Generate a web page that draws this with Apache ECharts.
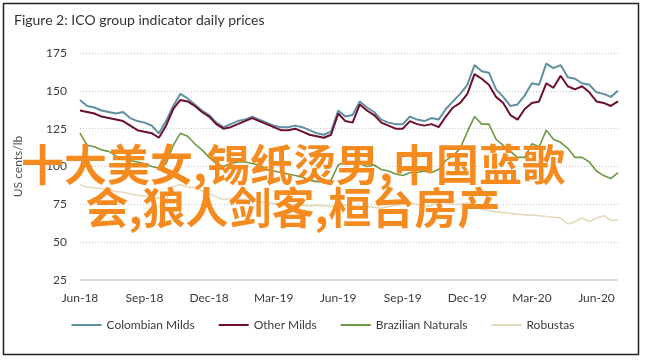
<!DOCTYPE html>
<html>
<head>
<meta charset="utf-8">
<script src="https://cdn.jsdelivr.net/npm/echarts@6/dist/echarts.min.js"></script>
<style>
html,body{margin:0;padding:0;background:#fff;}
#chart{width:646px;height:360px;}
</style>
</head>
<body>
<div id="chart"></div>
<script>
// x positions in months since 1 Jun 2018 (every ~10 days)
const months = [];
for (let i = 0; i <= 75; i++) months.push(+(i / 3).toFixed(3));

const tickLabels = ['Jun-18','Sep-18','Dec-18','Mar-19','Jun-19','Sep-19','Dec-19','Mar-20','Jun-20'];
const seriesNames = ['Colombian Milds','Other Milds','Brazilian Naturals','Robustas'];

const colombianMilds = [144,140,139,137,136,135,136,132,130,129,127,122,130,140,148,145,141,137,134,129,126,128,130,131,133,131,129,127,126,126,127,126,124,122,121,123,137,133,134,143,139,136,131,129,128,128,133,131,130,132,131,138,143,148,154,167,163,162,151,146,140,141,147,155,154,168,165,167,159,158,155,154,149,148,146,150];
const otherMilds = [137,136,135,133,132,131,130,127,124,123,122,119,127,138,144,143,140,136,133,128,125,126,128,130,132,130,128,126,124,124,125,123,121,120,119,121,135,130,129,141,137,134,129,127,125,125,130,128,127,128,126,133,139,142,148,161,158,154,146,142,134,131,138,142,143,155,152,160,153,151,153,149,143,142,140,143];
const brazilianNaturals = [122,114,113,111,110,107,105,104,103,102,100,99,102,114,122,120,115,111,106,102,100,102,103,103,102,101,98,97,96,95,94,93,91,90,90,91,101,103,102,102,100,101,98,97,95,94,96,96,97,96,98,104,107,112,123,133,128,128,118,114,110,106,106,115,113,124,118,116,112,106,106,103,97,94,92,96];
const robustas = [88,86.5,86,85.5,84.5,83.5,83,82,81,80.5,80,79,78,87,88,86.5,86,84,82,80,78,79,78.5,78,77,76.5,76,75.5,75,74.5,75,74.5,74,74.5,74,73.5,74,74.5,74,73.5,73.5,73,72.5,73.5,74.5,75,76,75,73.5,74,77,76,75,75,76,74,71.5,71,70,69.5,69,68.5,68,68,67.5,67,66.5,66,62,63.5,66,63.5,66,67.5,64.5,64.5];

const colors = ['#5f8fa0','#6d0f2e','#6c9a43','#e3d9bb'];
const widths = [2, 2, 1.6, 1.6];
const allValues = [colombianMilds, otherMilds, brazilianNaturals, robustas];

const chart = echarts.init(document.getElementById('chart'));
const font = 'Lato, "Open Sans", sans-serif';

const order = [3, 2, 0, 1];
const series = order.map(i => ({
  name: seriesNames[i],
  type: 'line',
  showSymbol: false,
  symbol: 'none',
  smooth: false,
  z: 2 + order.indexOf(i),
  lineStyle: { color: colors[i], width: widths[i] },
  itemStyle: { color: colors[i] },
  data: months.map((m, k) => [m, allValues[i][k]])
}));

chart.setOption({
  animation: false,
  backgroundColor: '#fff',
  textStyle: { fontFamily: font },
  grid: { left: 80, right: 28, top: 53, bottom: 80 },
  xAxis: {
    type: 'value', min: 0, max: 25, interval: 3,
    axisLine: { show: false },
    axisTick: { show: false },
    splitLine: { show: false },
    axisLabel: {
      margin: 12, color: '#3a3a3a', fontSize: 12, fontFamily: font,
      formatter: v => tickLabels[Math.round(v / 3)] || ''
    }
  },
  yAxis: {
    type: 'value', min: 25, max: 175, interval: 25,
    name: 'US cents/lb', nameLocation: 'middle', nameGap: 56, nameRotate: 90,
    nameTextStyle: { color: '#555', fontSize: 12, fontFamily: font },
    axisLine: { show: false },
    axisTick: { show: false },
    axisLabel: {
      margin: 13, color: '#3a3a3a', fontSize: 12, fontFamily: font
    },
    splitLine: {
      lineStyle: { color: '#c9c9c9', type: [1, 2], width: 1 }
    }
  },
  legend: {
    data: seriesNames,
    bottom: 24, left: 'center',
    icon: 'rect', itemWidth: 30, itemHeight: 2, itemGap: 24,
    textStyle: { color: '#3a3a3a', fontSize: 12, fontFamily: font }
  },
  series: series,
  graphic: [
    { type: 'rect', shape: { x: 3.5, y: 3.5, width: 635, height: 351 },
      style: { fill: 'none', stroke: '#222', lineWidth: 1.5 }, z: 100 },
    { type: 'line', shape: { x1: 80, y1: 280, x2: 618, y2: 280 },
      style: { stroke: '#dcdcdc', lineWidth: 2 }, z: 1 },
    { type: 'text', left: 14, top: 13,
      style: { text: 'Figure 2: ICO group indicator daily prices', fill: '#333', fontSize: 14, fontFamily: font }, z: 100 },
    { type: 'text', x: 293, y: 143, z: 200,
      style: {
        text: '十大美女,锡纸烫男,中国蓝歌\n会,狼人剑客,桓台房产',
        fill: '#f58b1f', fontSize: 43, fontWeight: 'bold', lineHeight: 43,
        fontFamily: '"Noto Sans CJK SC", sans-serif', align: 'center'
      } }
  ]
});
</script>
</body>
</html>
